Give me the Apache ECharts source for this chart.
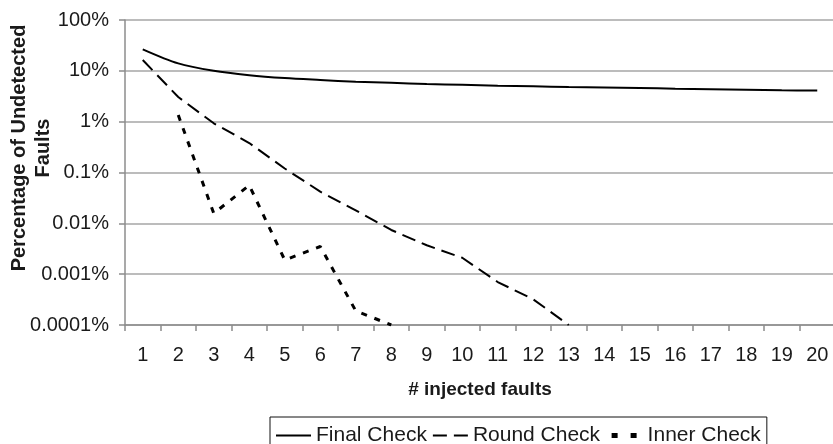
<!DOCTYPE html>
<html>
<head>
<meta charset="utf-8">
<script src="https://cdn.jsdelivr.net/npm/echarts@6/dist/echarts.min.js"></script>
<style>
  html, body { margin: 0; padding: 0; background: #fff; }
  #chart { width: 833px; height: 444px; }
</style>
</head>
<body>
<div id="chart"></div>
<script>
// categories: number of injected faults
const faultCounts = ['1','2','3','4','5','6','7','8','9','10','11','12','13','14','15','16','17','18','19','20'];

// percentage of undetected faults (%)
const finalCheck = [26.5, 14, 10, 8.2, 7.2, 6.6, 6.1, 5.8, 5.5, 5.3, 5.1, 4.95, 4.8, 4.7, 4.6, 4.45, 4.35, 4.25, 4.15, 4.1];
const roundCheck = [16.3, 3.05, 0.93, 0.38, 0.12, 0.042, 0.018, 0.0074, 0.0037, 0.0021, 0.0007, 0.00032, 0.0001, null, null, null, null, null, null, null];
const innerCheck = [null, 1.35, 0.0157, 0.056, 0.0019, 0.0035, 0.00019, 0.0001, null, null, null, null, null, null, null, null, null, null, null, null];

const yTickLabels = ['0.0001%', '0.001%', '0.01%', '0.1%', '1%', '10%', '100%'];

const FONT = '"Liberation Sans", Arial, sans-serif';
const TEXT = '#1a1a1a';
const GRID = '#a6a6a6';

const chart = echarts.init(document.getElementById('chart'));

const option = {
    animation: false,
    backgroundColor: '#fff',
    textStyle: { fontFamily: FONT },
    grid: { left: 125, right: -2, top: 20, height: 305, containLabel: false, outerBoundsMode: 'none' },
    legend: {
        left: 270,
        top: 417,
        padding: [8, 6, 8, 5],
        itemGap: 5,
        itemWidth: 35,
        itemHeight: 14,
        borderColor: '#111',
        borderWidth: 1,
        itemStyle: { color: 'transparent', borderWidth: 0, opacity: 0 },
        textStyle: { fontSize: 21, color: TEXT, fontFamily: FONT, padding: [0, 0, 0, 0] },
        data: [
            { name: 'Final Check' },
            { name: 'Round Check' },
            { name: 'Inner Check', lineStyle: { width: 5, type: [6, 13], dashOffset: -4 } }
        ]
    },
    xAxis: {
        type: 'category',
        data: faultCounts,
        boundaryGap: true,
        name: '# injected faults',
        nameLocation: 'middle',
        nameGap: 55,
        nameMoveOverlap: false,
        nameTextStyle: { fontSize: 19, fontWeight: 'bold', color: TEXT, fontFamily: FONT },
        axisLine: { lineStyle: { color: '#8c8c8c', width: 1.5 } },
        axisTick: { show: true, length: 6, lineStyle: { color: '#8c8c8c', width: 1.5 } },
        axisLabel: { fontSize: 20, color: TEXT, margin: 20, fontFamily: FONT, interval: 0 },
        splitLine: { show: false }
    },
    yAxis: {
        type: 'log',
        logBase: 10,
        min: 0.0001,
        max: 100,
        name: 'Percentage of Undetected\nFaults',
        nameLocation: 'middle',
        nameGap: 70,
        nameMoveOverlap: false,
        nameTextStyle: {
            fontSize: 20, fontWeight: 'bold', color: TEXT, fontFamily: FONT,
            lineHeight: 24, align: 'center', padding: [0, 0, 0, 49]
        },
        axisLine: { show: true, lineStyle: { color: '#8c8c8c', width: 1.5 } },
        axisTick: { show: true, length: 6, lineStyle: { color: '#8c8c8c', width: 1.5 } },
        axisLabel: {
            fontSize: 20, color: TEXT, margin: 16, fontFamily: FONT,
            formatter: function (v) {
                return yTickLabels[Math.round(Math.log10(v)) + 4];
            }
        },
        splitLine: { lineStyle: { color: GRID, width: 1.5 } }
    },
    series: [
        {
            name: 'Final Check',
            type: 'line',
            data: finalCheck,
            symbol: 'none',
            smooth: 0.3,
            clip: true,
            lineStyle: { color: '#000', width: 2, type: 'solid' },
            itemStyle: { color: '#000' }
        },
        {
            name: 'Round Check',
            type: 'line',
            data: roundCheck,
            symbol: 'none',
            clip: true,
            lineStyle: { color: '#000', width: 2, type: [14, 7] },
            itemStyle: { color: '#000' }
        },
        {
            name: 'Inner Check',
            type: 'line',
            data: innerCheck,
            symbol: 'none',
            clip: true,
            lineStyle: { color: '#000', width: 3, type: [6, 8] },
            itemStyle: { color: '#000' }
        }
    ]
};

chart.setOption(option);
</script>
</body>
</html>
